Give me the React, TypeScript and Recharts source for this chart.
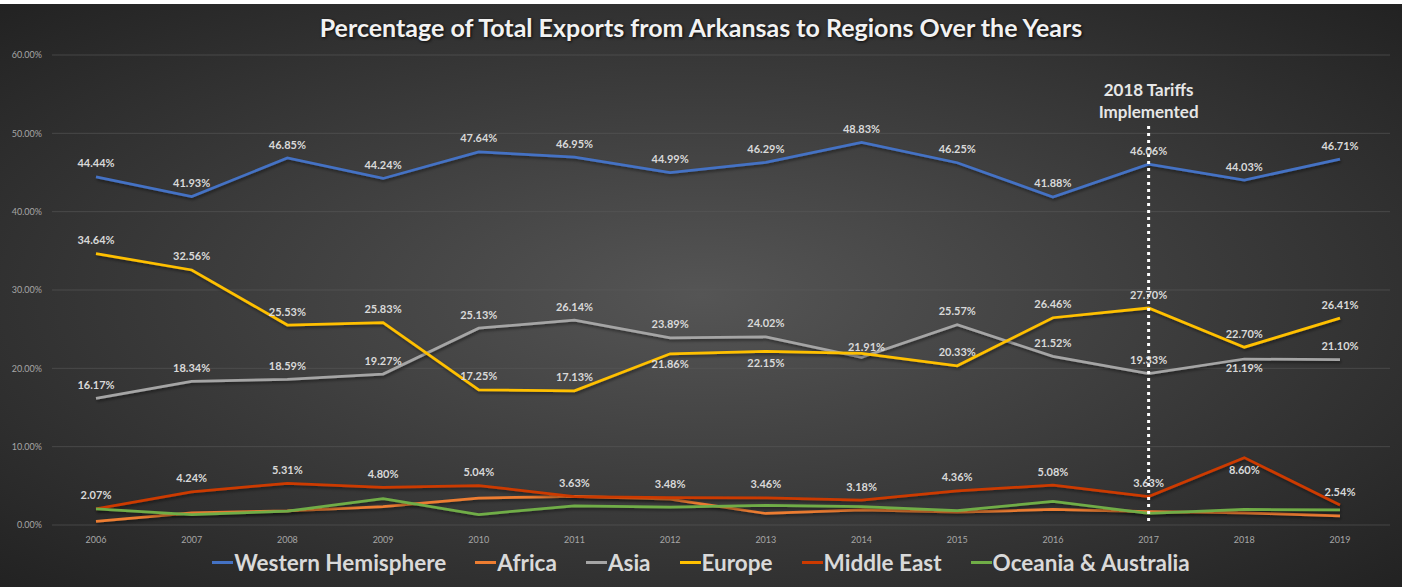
import React from "react";
import {
  LineChart,
  Line,
  XAxis,
  YAxis,
  CartesianGrid,
  LabelList,
  ReferenceLine,
} from "recharts";

const years = [
  "2006", "2007", "2008", "2009", "2010", "2011", "2012",
  "2013", "2014", "2015", "2016", "2017", "2018", "2019",
];

const westernHemisphere = [44.44, 41.93, 46.85, 44.24, 47.64, 46.95, 44.99, 46.29, 48.83, 46.25, 41.88, 46.06, 44.03, 46.71];
const africa = [0.45, 1.55, 1.8, 2.36, 3.43, 3.65, 3.3, 1.47, 1.94, 1.64, 1.98, 1.72, 1.55, 1.17];
const asia = [16.17, 18.34, 18.59, 19.27, 25.13, 26.14, 23.89, 24.02, 21.4, 25.57, 21.52, 19.33, 21.19, 21.1];
const europe = [34.64, 32.56, 25.53, 25.83, 17.25, 17.13, 21.86, 22.15, 21.91, 20.33, 26.46, 27.7, 22.7, 26.41];
const middleEast = [2.07, 4.24, 5.31, 4.8, 5.04, 3.63, 3.48, 3.46, 3.18, 4.36, 5.08, 3.63, 8.6, 2.54];
const oceania = [2.07, 1.34, 1.77, 3.35, 1.34, 2.45, 2.28, 2.49, 2.36, 1.85, 3.0, 1.5, 1.98, 1.94];

const yTicks = [0, 10, 20, 30, 40, 50, 60];

// annotation: year of the dotted line and its vertical extent (in %)
const tariffYear = "2017";
const tariffFrom = 0.5;
const tariffTo = 51.4;
const tariffText = ["2018 Tariffs", "Implemented"];

const series = [
  { key: "western", name: "Western Hemisphere", color: "#4472C4", values: westernHemisphere, labels: true },
  { key: "africa", name: "Africa", color: "#ED7D31", values: africa, labels: false },
  { key: "asia", name: "Asia", color: "#A5A5A5", values: asia, labels: true },
  { key: "europe", name: "Europe", color: "#FFC000", values: europe, labels: true },
  { key: "middleEast", name: "Middle East", color: "#CC3A00", values: middleEast, labels: true },
  { key: "oceania", name: "Oceania & Australia", color: "#70AD47", values: oceania, labels: false },
];

const data = years.map((year, i) => {
  const row: Record<string, string | number> = { year };
  series.forEach((s) => (row[s.key] = s.values[i]));
  return row;
});

// labels that Excel had moved away from the default "above" spot
const labelDy: Record<string, Record<number, number>> = {
  europe: { 6: 10, 7: 11, 8: -7 },
  asia: { 12: 8 },
  middleEast: { 12: 12 },
};
const hiddenLabels: Record<string, number[]> = { asia: [8] };

const FONT = "Lato, 'Open Sans', sans-serif";

const makeLabel = (key: string) => (props: any) => {
  const { x, y, value, index } = props;
  if (hiddenLabels[key]?.includes(index)) return null;
  const dy = labelDy[key]?.[index] ?? -14;
  const dx = key === "europe" && index === 8 ? 5 : 0;
  return (
    <text
      x={x + dx}
      y={y + dy}
      textAnchor="middle"
      dominantBaseline="central"
      fill="#d9d9d9"
      fontSize={11}
      fontWeight={700}
      fontFamily={FONT}
    >
      {Number(value).toFixed(2)}%
    </text>
  );
};

const TariffLabel = (props: any) => {
  const { viewBox } = props;
  const x = viewBox.x;
  const y = viewBox.y;
  return (
    <text textAnchor="middle" fill="#e6e6e6" fontSize={17} fontWeight={700} fontFamily={FONT}>
      <tspan x={x} y={y - 26}>{tariffText[0]}</tspan>
      <tspan x={x} y={y - 4}>{tariffText[1]}</tspan>
    </text>
  );
};

export default function App() {
  return (
    <div style={{ position: "relative", width: 1402, height: 587, background: "#ffffff", overflow: "hidden" }}>
      <style>{`body{margin:0} .recharts-line-curve{filter:url(#lineShadow)}`}</style>
      <div
        style={{
          position: "absolute",
          left: 0,
          top: 4,
          width: 1402,
          height: 583,
          background: "radial-gradient(ellipse farthest-corner at 50% 50%, #555555 0%, #222222 100%)",
        }}
      >
        <div
          style={{
            position: "absolute",
            top: 8,
            left: 0,
            width: 1402,
            textAlign: "center",
            color: "#f2f2f2",
            fontFamily: FONT,
            fontWeight: 700,
            fontSize: 25,
            textShadow: "1px 1px 3px rgba(0,0,0,0.8)",
          }}
        >
          Percentage of Total Exports from Arkansas to Regions Over the Years
        </div>
        <div style={{ position: "absolute", left: 0, top: 0 }}>
          <LineChart width={1402} height={583} data={data} margin={{ top: 51, right: 12, bottom: 32, left: 0 }}>
            <defs>
              <filter id="lineShadow" x="-5%" y="-20%" width="110%" height="140%">
                <feDropShadow dx="1" dy="2" stdDeviation="1.5" floodColor="#000" floodOpacity="0.45" />
              </filter>
            </defs>
            <CartesianGrid vertical={false} stroke="#5a5a5a" strokeOpacity={0.6} />
            <XAxis
              dataKey="year"
              padding={{ left: 44, right: 50 }}
              axisLine={false}
              tickLine={false}
              tick={{ fill: "#a6a6a6", fontSize: 9, fontFamily: FONT }}
              tickMargin={6}
              interval={0}
            />
            <YAxis
              width={52}
              domain={[0, 60]}
              ticks={yTicks}
              axisLine={false}
              tickLine={false}
              tickMargin={4}
              tick={{ fill: "#a6a6a6", fontSize: 9, fontFamily: FONT }}
              tickFormatter={(v: number) => `${v.toFixed(2)}%`}
            />
            {series.map((s) => (
              <Line
                key={s.key}
                type="linear"
                dataKey={s.key}
                name={s.name}
                stroke={s.color}
                strokeWidth={2.75}
                dot={false}
                activeDot={false}
                isAnimationActive={false}
              >
                {s.labels && <LabelList dataKey={s.key} content={makeLabel(s.key)} />}
              </Line>
            ))}
            <ReferenceLine
              segment={[
                { x: tariffYear, y: tariffFrom },
                { x: tariffYear, y: tariffTo },
              ]}
              stroke="#ffffff"
              strokeWidth={3}
              strokeDasharray="3 4"
              label={<TariffLabel />}
            />
          </LineChart>
        </div>
        <div
          style={{
            position: "absolute",
            top: 545,
            left: 0,
            width: 1402,
            display: "flex",
            justifyContent: "center",
            gap: 29,
            fontFamily: FONT,
            fontSize: 22.5,
            fontWeight: 700,
            color: "#d9d9d9",
          }}
        >
          {series.map((s) => (
            <div key={s.key} style={{ display: "flex", alignItems: "center" }}>
              <span style={{ display: "inline-block", width: 21, height: 3, background: s.color, marginRight: 1 }} />
              <span>{s.name}</span>
            </div>
          ))}
        </div>
      </div>
    </div>
  );
}
